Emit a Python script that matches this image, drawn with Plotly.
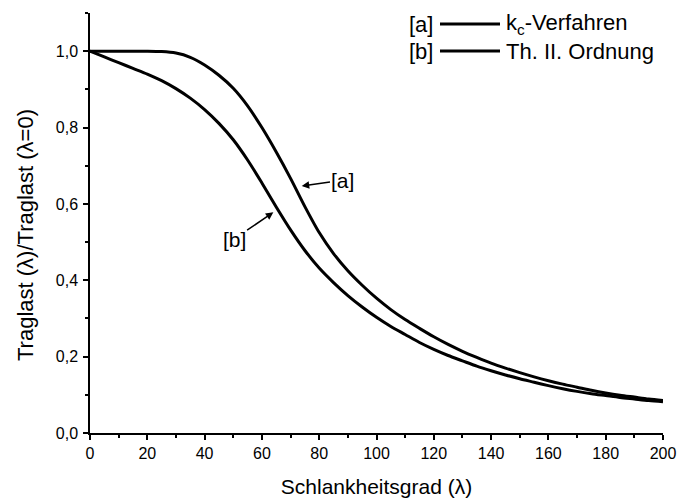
import plotly.graph_objects as go

# Schlankheitsgrad (lambda) sampling points
lam = list(range(0, 205, 5))

# [a] k_c-Verfahren
kc_verfahren = [
    1.000, 1.000, 1.000, 1.000, 1.000, 0.999, 0.995, 0.984, 0.964, 0.937,
    0.903, 0.857, 0.800, 0.736, 0.667, 0.593, 0.525, 0.470, 0.425, 0.387,
    0.353, 0.323, 0.297, 0.274, 0.252, 0.232, 0.214, 0.198, 0.183, 0.170,
    0.158, 0.147, 0.137, 0.128, 0.120, 0.112, 0.105, 0.099, 0.094, 0.089,
    0.085,
]

# [b] Theorie II. Ordnung
th2_ordnung = [
    1.000, 0.985, 0.970, 0.955, 0.940, 0.923, 0.902, 0.877, 0.847, 0.811,
    0.768, 0.715, 0.655, 0.592, 0.532, 0.478, 0.432, 0.394, 0.360, 0.330,
    0.303, 0.279, 0.258, 0.237, 0.219, 0.203, 0.189, 0.175, 0.163, 0.152,
    0.142, 0.133, 0.124, 0.116, 0.109, 0.103, 0.098, 0.093, 0.089, 0.085,
    0.082,
]

x_ticks = list(range(0, 201, 20))
y_ticks = [0.0, 0.2, 0.4, 0.6, 0.8, 1.0]

FONT = "Liberation Sans, Arial, sans-serif"
L, R, T, B = 90, 14, 13, 69
W, H = 677, 502
PW, PH = W - L - R, H - T - B


def px(xp):
    return (xp - L) / PW


def py(yp):
    return (H - B - yp) / PH


fig = go.Figure()
for name, vals in [("k<sub>c</sub>-Verfahren", kc_verfahren),
                   ("Th. II. Ordnung", th2_ordnung)]:
    fig.add_trace(go.Scatter(
        x=lam, y=vals, mode="lines", name=name,
        line=dict(color="black", width=3, shape="spline", smoothing=0.8),
        showlegend=False,
    ))

axis_common = dict(
    showline=True, linecolor="black", linewidth=1.5,
    ticks="outside", ticklen=5, tickwidth=1.5, tickcolor="black",
    showgrid=False, zeroline=False, mirror=False,
    tickfont=dict(family=FONT, size=16, color="black"),
)

fig.update_xaxes(
    range=[0, 200], tickvals=x_ticks, ticktext=[str(v) for v in x_ticks],
    title=dict(text="Schlankheitsgrad (λ)", standoff=18,
               font=dict(family=FONT, size=21, color="black")),
    minor=dict(ticks="outside", ticklen=3, tickwidth=1.5, dtick=10,
               tickcolor="black"),
    **axis_common,
)
fig.update_yaxes(
    range=[0, 1.1], tickvals=y_ticks,
    ticktext=[f"{v:.1f}".replace(".", ",") for v in y_ticks],
    ticklabelstandoff=2,
    minor=dict(ticks="outside", ticklen=3, tickwidth=1.5, dtick=0.1,
               tickcolor="black"),
    **axis_common,
)

# y-axis title
fig.add_annotation(xref="paper", yref="paper", x=px(25), y=py(235),
                   xanchor="center", yanchor="middle", textangle=-90,
                   text="Traglast (λ)/Traglast (λ=0)", showarrow=False,
                   font=dict(family=FONT, size=22, color="black"))

# curve labels with arrows
fig.add_annotation(x=73.9, y=0.647, ax=88.3, ay=0.662, axref="x", ayref="y",
                   text="[a]", showarrow=True, arrowhead=2, arrowsize=1,
                   arrowwidth=1.5, arrowcolor="black", standoff=0,
                   font=dict(family=FONT, size=21, color="black"))
fig.add_annotation(x=64.0, y=0.578, ax=50.3, ay=0.508, axref="x", ayref="y",
                   text="[b]", showarrow=True, arrowhead=2, arrowsize=1,
                   arrowwidth=1.5, arrowcolor="black", standoff=0,
                   font=dict(family=FONT, size=21, color="black"))

# legend block
legend_rows = [("[a]", "k<sub>c</sub>-Verfahren", 24), ("[b]", "Th. II. Ordnung", 51)]
for tag, label, yp in legend_rows:
    fig.add_shape(type="line", xref="paper", yref="paper",
                  x0=px(440), x1=px(500), y0=py(yp), y1=py(yp),
                  line=dict(color="black", width=3))
    fig.add_annotation(xref="paper", yref="paper", x=px(435), y=py(yp),
                       xanchor="right", yanchor="middle", text=tag,
                       showarrow=False,
                       font=dict(family=FONT, size=22, color="black"))
    fig.add_annotation(xref="paper", yref="paper", x=px(504), y=py(yp),
                       xanchor="left", yanchor="middle", text=label,
                       showarrow=False,
                       font=dict(family=FONT, size=22, color="black"))

fig.update_layout(
    width=W, height=H,
    margin=dict(l=L, r=R, t=T, b=B, autoexpand=False),
    paper_bgcolor="white", plot_bgcolor="white",
    font=dict(family=FONT, color="black"),
    showlegend=False,
)

fig.write_html("out.html")
